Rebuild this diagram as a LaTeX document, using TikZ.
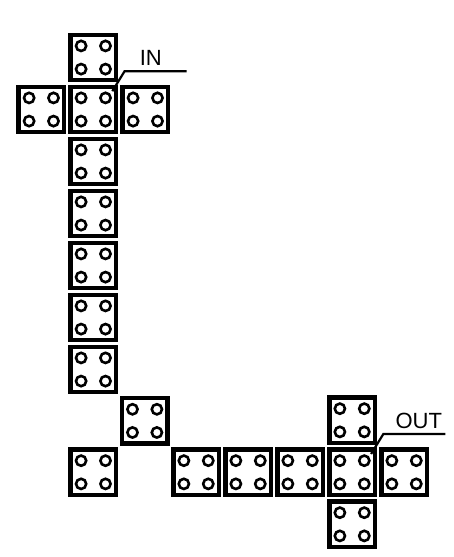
\documentclass[tikz,border=0pt]{standalone}
\usepackage{fontspec}
\setmainfont{Liberation Sans}
\usepackage{tikz}
\usetikzlibrary{positioning}

\begin{document}
\begin{tikzpicture}[
            x=1pt, y=1pt,
            node distance=2.1pt,
            brick/.style={draw, line width=4.4pt, minimum size=45.5pt, inner sep=0pt,
                path picture={
                    \draw[line width=2.6pt] ([shift={(-12.2pt,11.6pt)}]path picture bounding box.center) circle [radius=5.1pt];
                    \draw[line width=2.6pt] ([shift={(12.2pt,11.6pt)}]path picture bounding box.center) circle [radius=5.1pt];
                    \draw[line width=2.6pt] ([shift={(-12.2pt,-11.6pt)}]path picture bounding box.center) circle [radius=5.1pt];
                    \draw[line width=2.6pt] ([shift={(12.2pt,-11.6pt)}]path picture bounding box.center) circle [radius=5.1pt];
                }},
            leader/.style={line width=2.2pt},
            tag/.style={inner sep=0pt, font=\fontsize{22}{26}\selectfont},
        ]
            \useasboundingbox (0,0) rectangle (454,-557);

            % Nodes
            \node[brick] (inTop) at (93.3,-57.5) {};
            \node[brick, below=of inTop] (inCenter) {};
            \node[brick, left=of inCenter] (inLeft) {};
            \node[brick, right=of inCenter] (inRight) {};
            \node[brick, below=of inCenter] (stemA) {};
            \node[brick, below=of stemA] (stemB) {};
            \node[brick, below=of stemB] (stemC) {};
            \node[brick, below=of stemC] (stemD) {};
            \node[brick, below=of stemD] (stemE) {};
            \node[brick, below right=of stemE] (kink) {};
            \node[brick, below left=of kink] (foot) {};
            \node[brick, below right=of kink] (runA) {};
            \node[brick, right=of runA] (runB) {};
            \node[brick, right=of runB] (outLeft) {};
            \node[brick, right=of outLeft] (outCenter) {};
            \node[brick, above=of outCenter] (outTop) {};
            \node[brick, right=of outCenter] (outRight) {};
            \node[brick, below=of outCenter] (outBottom) {};

            % Leaders
            \coordinate (inTip) at ([shift={(19,18.3)}]inCenter.center);
            \coordinate (inBend) at ([shift={(12.3,20)}]inTip);
            \draw[leader] (inTip) -- (inBend) -- ++(62,0);
            \node[tag, anchor=base west] (inLabel) at ([shift={(15,5.7)}]inBend) {IN};

            \coordinate (outTip) at ([shift={(19,18.3)}]outCenter.center);
            \coordinate (outBend) at ([shift={(12.3,20)}]outTip);
            \draw[leader] (outTip) -- (outBend) -- ++(62,0);
            \node[tag, anchor=base west] (outLabel) at ([shift={(12,5.4)}]outBend) {OUT};

        \end{tikzpicture}
\end{document}
